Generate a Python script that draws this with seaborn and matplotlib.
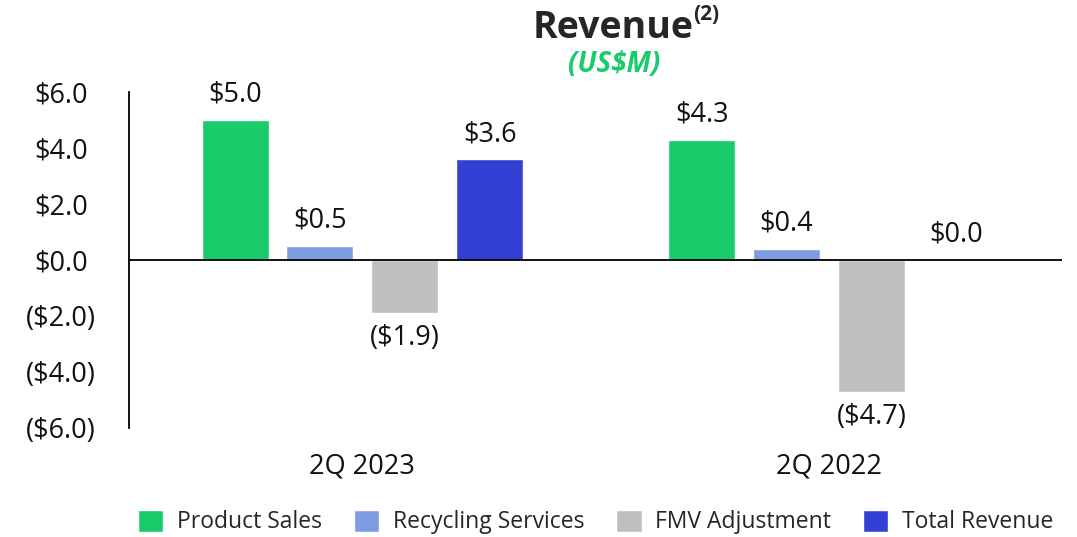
import matplotlib
matplotlib.use('Agg')
import matplotlib.pyplot as plt
import seaborn as sns
import pandas as pd

# Data (US$M)
periods = ['2Q 2023', '2Q 2022']
series = ['Product Sales', 'Recycling Services', 'FMV Adjustment', 'Total Revenue']
values_2q2023 = [5.0, 0.5, -1.9, 3.6]
values_2q2022 = [4.3, 0.4, -4.7, 0.0]
colors = ['#19CB6A', '#7F9BE2', '#BFBFBF', '#3340D3']
y_ticks = [6, 4, 2, 0, -2, -4, -6]

rows = []
for s, v in zip(series, values_2q2023):
    rows.append({'period': periods[0], 'series': s, 'value': v})
for s, v in zip(series, values_2q2022):
    rows.append({'period': periods[1], 'series': s, 'value': v})
df = pd.DataFrame(rows)


def money(v):
    if v < 0:
        return f'(${-v:.1f})'
    return f'${v:.1f}'


sns.set_theme(style='white')
plt.rcParams['font.family'] = ['Open Sans', 'DejaVu Sans']

fig = plt.figure(figsize=(10.77, 5.37), dpi=100)
ax = fig.add_axes([0.1198, 0.203, 0.8665, 0.6257])

sns.barplot(data=df, x='period', y='value', hue='series', hue_order=series,
            palette=colors, width=0.727, gap=0.21, saturation=1, ax=ax)

# value labels above / below each bar
for cont, s in zip(ax.containers, series):
    vals = df[df['series'] == s]['value'].tolist()
    ax.bar_label(cont, labels=[money(v) for v in vals], padding=8,
                 fontsize=19.5, color='#111111')

ax.axhline(0, color='black', lw=1.3)
ax.set_ylim(-6, 6)
ax.set_yticks(y_ticks)
ax.set_yticklabels([money(t) for t in y_ticks])
ax.set_xlim(-0.5, 1.5)
ax.set_xlabel('')
ax.set_ylabel('')
ax.tick_params(axis='both', length=0, labelsize=19.5, colors='#111111')
ax.tick_params(axis='y', pad=49)
ax.tick_params(axis='x', pad=18)
for lab in ax.get_yticklabels():
    lab.set_horizontalalignment('center')

sns.despine(ax=ax, top=True, right=True, bottom=True)
ax.spines['left'].set_color('black')
ax.spines['left'].set_linewidth(1.3)

ax.legend(loc='center', bbox_to_anchor=(0.5, -0.28), ncol=4, frameon=False,
          fontsize=16.5, handlelength=1.1, handleheight=1.1, columnspacing=1.4,
          handletextpad=0.6)

title = fig.text(0.569, 0.948, 'Revenue', fontsize=27, fontweight='bold',
                 ha='center', va='center')
plt.annotate('(2)', xy=(1.0, 0.85), xycoords=title, fontsize=15,
             fontweight='bold', ha='left', va='center')
fig.text(0.570, 0.879, '(US$M)', fontsize=20, fontweight='bold', style='italic',
         color='#19CB6A', ha='center', va='center')

fig.savefig('out.png', dpi=100)
